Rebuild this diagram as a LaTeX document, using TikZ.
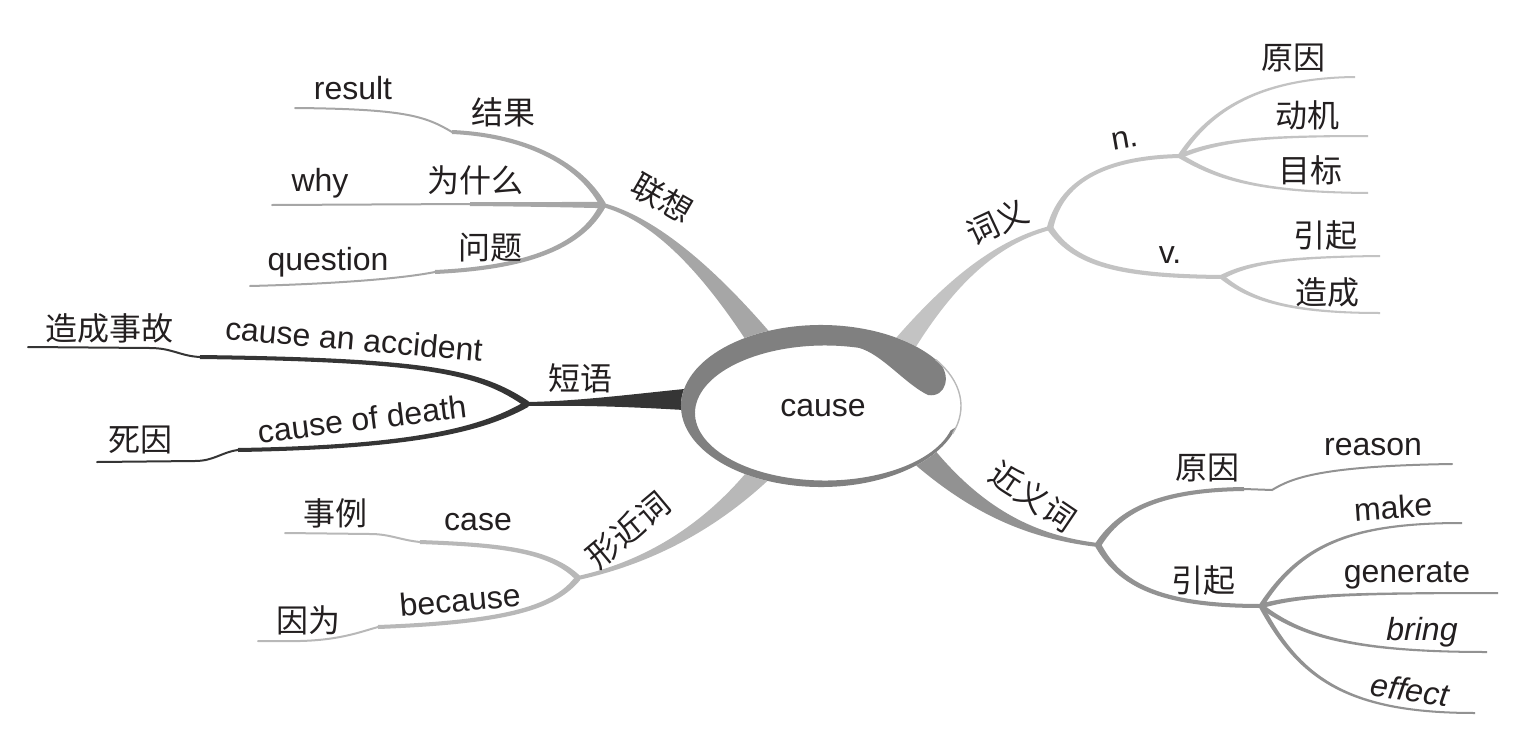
\documentclass[tikz,border=0pt]{standalone}
\usepackage{fontspec}
\setmainfont{Liberation Sans}
\newfontfamily\cjk{Noto Sans CJK SC}
\usetikzlibrary{calc}
\definecolor{txt}{HTML}{231F20}
\definecolor{ring}{HTML}{808080}
\definecolor{lxc}{HTML}{A6A6A6}
\definecolor{dyc}{HTML}{353535}
\definecolor{xjc}{HTML}{B8B8B8}
\definecolor{cyc}{HTML}{C3C3C3}
\definecolor{jyc}{HTML}{929292}
% tapered branch: colour, start, control 1, control 2, end, half widths
\newcommand\limb[8]{%
  \fill[#1] ($(#2)!#6!90:(#3)$) .. controls ($(#3)!#7!90:(#4)$) and ($(#4)!#8!90:(#5)$) .. ($(#5)!#8!-90:(#4)$)
    -- ($(#5)!#8!90:(#4)$) .. controls ($(#4)!#8!-90:(#5)$) and ($(#3)!#7!-90:(#4)$) .. ($(#2)!#6!-90:(#3)$) -- cycle;}

\begin{document}
\begin{tikzpicture}[x=0.5pt,y=-0.5pt,
  en/.style={font=\fontsize{16}{16}\selectfont,text=txt,inner sep=0pt},
  zh/.style={font=\cjk\fontsize{16}{16}\selectfont,text=txt,inner sep=0pt},
  leaf/.style={line width=1pt,line cap=round}]
\useasboundingbox (0,0) rectangle (1515,744);
% junctions, bends and free ends
\foreach \n/\p in {lianx/{603,205},duany/{527,404},xingj/{578,578},ciyi/{1050,228},
  jinyi/{1098,545},nn/{1180,156},vv/{1222,277},yinqi/{1261,606},
  rlx/{775,360},rdy/{715,399},rxj/{770,462},rcy/{890,365},rjy/{918,450},
  kres/{452,132},kwhy/{470,204},kque/{435,272},kacc/{200,357},kdea/{238,450},
  kcas/{420,542},kbec/{378,627},krea/{1244,489},
  eres/{295,108},ewhy/{272,205},eque/{250,286},eacc/{28,347},edea/{97,462},
  ecas/{285,533},ebec/{258,641},erea/{1452,464},eyy/{1355,77},edj/{1368,136},
  emb/{1368,193},eyq/{1380,256},ezc/{1380,313},emak/{1462,523},egen/{1498,593},
  ebri/{1487,652},eeff/{1475,713}}
  \coordinate (\n) at (\p);
% main branches
\limb{lxc}{rlx}{725,290}{665,222}{lianx}{7pt}{4pt}{1pt}
\limb{dyc}{rdy}{640,400}{585,403}{duany}{6.5pt}{3.5pt}{1pt}
\limb{xjc}{rxj}{715,525}{650,562}{xingj}{6pt}{3pt}{1pt}
\limb{cyc}{rcy}{935,300}{985,245}{ciyi}{6.5pt}{3pt}{1pt}
\limb{jyc}{rjy}{975,510}{1030,537}{jinyi}{6.5pt}{3pt}{1pt}
% lianxiang
\limb{lxc}{lianx}{578,160}{520,135}{kres}{1.6pt}{1.3pt}{1pt}
\limb{lxc}{lianx}{560,204.5}{520,204.5}{kwhy}{1.6pt}{1.3pt}{1pt}
\limb{lxc}{lianx}{580,250}{520,268}{kque}{1.6pt}{1.3pt}{1pt}
\draw[leaf,lxc] (kres) .. controls (425,116) and (405,109) .. (eres);
\draw[leaf,lxc] (kwhy) -- (ewhy);
\draw[leaf,lxc] (kque) .. controls (400,279) and (330,284) .. (eque);
% duanyu
\limb{dyc}{duany}{480,372}{430,360}{kacc}{1.6pt}{1.3pt}{1pt}
\limb{dyc}{duany}{485,428}{420,447}{kdea}{1.6pt}{1.3pt}{1pt}
\draw[leaf,dyc] (kacc) .. controls (180,356) and (172,348) .. (150,348) -- (eacc);
\draw[leaf,dyc] (kdea) .. controls (222,452) and (214,461) .. (195,461) -- (edea);
% xingjinci
\limb{xjc}{xingj}{550,550}{500,545}{kcas}{1.5pt}{1.2pt}{1pt}
\limb{xjc}{xingj}{555,607}{510,622}{kbec}{1.5pt}{1.2pt}{1pt}
\draw[leaf,xjc] (kcas) .. controls (400,540) and (390,534) .. (370,534) -- (ecas);
\draw[leaf,xjc] (kbec) .. controls (360,632) and (340,640) .. (300,641) -- (ebec);
% ciyi
\limb{cyc}{ciyi}{1058,195}{1085,158}{nn}{1.6pt}{1.3pt}{1pt}
\limb{cyc}{ciyi}{1075,265}{1120,276}{vv}{1.6pt}{1.3pt}{1pt}
\limb{cyc}{nn}{1210,110}{1260,78}{eyy}{1.2pt}{0.9pt}{0.5pt}
\limb{cyc}{nn}{1220,140}{1260,136}{edj}{1.2pt}{0.9pt}{0.5pt}
\limb{cyc}{nn}{1220,180}{1260,192}{emb}{1.2pt}{0.9pt}{0.5pt}
\limb{cyc}{vv}{1250,262}{1290,257}{eyq}{1.2pt}{0.9pt}{0.5pt}
\limb{cyc}{vv}{1250,300}{1290,313}{ezc}{1.2pt}{0.9pt}{0.5pt}
% jinyici
\limb{jyc}{jinyi}{1120,510}{1160,490}{krea}{1.6pt}{1.3pt}{1pt}
\limb{jyc}{jinyi}{1120,585}{1160,606}{yinqi}{1.6pt}{1.3pt}{1pt}
\draw[leaf,jyc] (krea) -- (1272,490) .. controls (1292,478) and (1320,466) .. (erea);
\limb{jyc}{yinqi}{1300,545}{1350,523}{emak}{1.2pt}{0.9pt}{0.5pt}
\limb{jyc}{yinqi}{1300,595}{1350,593}{egen}{1.2pt}{0.9pt}{0.5pt}
\limb{jyc}{yinqi}{1300,635}{1350,652}{ebri}{1.2pt}{0.9pt}{0.5pt}
\limb{jyc}{yinqi}{1300,680}{1350,713}{eeff}{1.2pt}{0.9pt}{0.5pt}
% centre
\fill[white] (821,406) ellipse[x radius=140,y radius=81];
\fill[ring] (821,406) ++(15:140 and 81) arc[start angle=15,end angle=327,x radius=140,y radius=81]
  .. controls (952,375) and (946,398) .. (928,395) .. controls (905,384) and (882,354) .. ($(825,413)+(285:130 and 67.5)$)
  arc[start angle=285,end angle=15,x radius=130,y radius=67.5] -- cycle;
\draw[ring!55,line width=0.7pt] (821,406) ++(-35:140 and 81) arc[start angle=-35,end angle=20,x radius=140,y radius=81];
% labels
\node[en] (cause) at (823,408) {cause};
\foreach \n/\p/\r/\t in {tlx/{662,198}/-30/联想,jg/{503,112}/0/结果,wsm/{475,180}/0/为什么,
  wt/{490,248}/0/问题,tdy/{580,378}/0/短语,zcsg/{110,328}/0/造成事故,sy/{140,440}/0/死因,
  txj/{628,530}/40/形近词,sl/{335,513}/0/事例,yw/{308,620}/0/因为,tcy/{997,222}/25/词义,
  yya/{1293,58}/0/原因,dj/{1307,115}/0/动机,mb/{1310,170}/0/目标,yqa/{1325,235}/0/引起,
  zc/{1327,292}/0/造成,tjy/{1033,496}/-34/近义词,yyb/{1207,468}/0/原因,yqb/{1203,580}/0/引起}
  \node[zh,rotate=\r] (\n) at (\p) {\t};
\foreach \n/\p/\r/\t in {result/{353,88}/0/result,why/{320,183}/0/why,question/{328,262}/0/question,
  accident/{354,339}/-5/cause an accident,death/{362,419}/7/cause of death,case/{478,522}/0/case,
  because/{460,600}/5/because,tn/{1125,140}/10/n.,tv/{1170,255}/0/v.,reason/{1373,447}/0/reason,
  make/{1393,507}/4/make,generate/{1407,575}/0/generate}
  \node[en,rotate=\r] (\n) at (\p) {\t};
\node[en,font=\fontsize{16}{16}\selectfont\itshape] (bring) at (1422,632) {bring};
\node[en,font=\fontsize{16}{16}\selectfont\itshape,rotate=-8] (effect) at (1410,690) {effect};
\end{tikzpicture}
\end{document}
